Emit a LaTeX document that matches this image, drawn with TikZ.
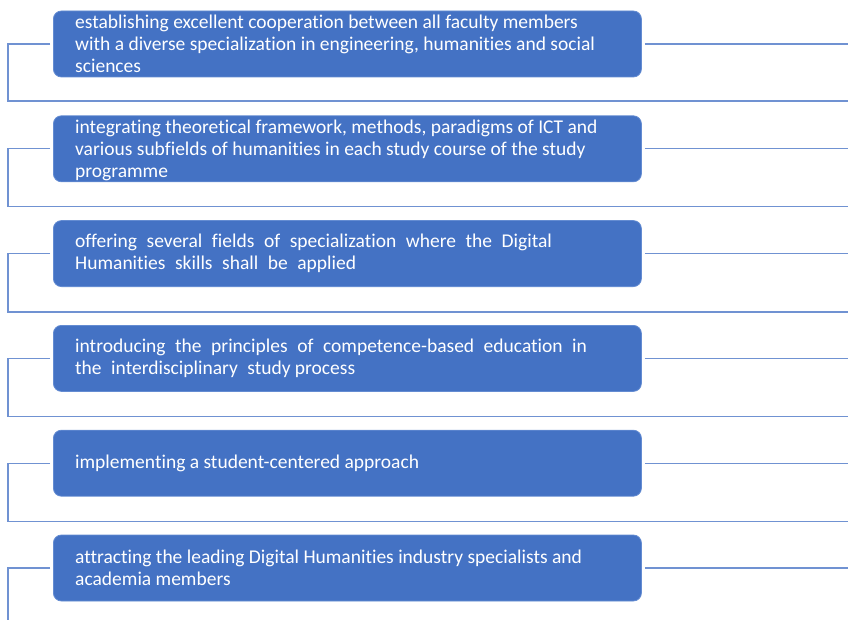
\documentclass[tikz,border=0pt]{standalone}
\usepackage{fontspec}
\setmainfont{Carlito}[Ligatures=NoCommon]
\definecolor{boxblue}{RGB}{68,114,196}
\definecolor{boxedge}{RGB}{100,140,210}
\definecolor{linkblue}{RGB}{112,146,210}
\newcommand{\mywidesp}{\spaceskip=0.49em plus 0.1em\relax}
\begin{document}
\begin{tikzpicture}[x=1pt,y=-1pt,
  item/.style={draw=boxedge, line width=0.8pt, fill=boxblue, rounded corners=8pt,
    minimum width=588pt, minimum height=66pt, inner sep=0pt, anchor=west},
  link/.style={draw=linkblue, line width=1.3pt},
  txt/.style={text=white, anchor=west, align=left, inner sep=0pt,
    font=\fontsize{19.5}{22}\selectfont},
  widetxt/.style={txt, font=\fontsize{19.5}{22}\selectfont\mywidesp}]
\useasboundingbox (0,0) rectangle (848,620);
\foreach \i/\c in {1/44,2/148.8,3/253.6,4/358.4,5/463.2,6/568}{
  \node[item] (b\i) at (53,\c) {};
  \coordinate (l\i) at (8,\c);
  \coordinate (r\i) at (848,\c);
}
\foreach \i/\s in {1/101,2/206.5,3/312,4/416.5,5/521.5}{
  \coordinate (sl\i) at (8,\s);
  \coordinate (sr\i) at (848,\s);
}
\coordinate (bottom) at (8,620);
% texts
\node[txt] (t1) at ([xshift=22pt]b1.west) {establishing excellent cooperation between all faculty members\\with a diverse specialization in engineering, humanities and social\\sciences};
\node[txt] (t2) at ([xshift=22pt,yshift=-2pt]b2.west) {integrating theoretical framework, methods, paradigms of ICT and\\various subfields of humanities in each study course of the study\\programme};
\node[widetxt] (t3) at ([xshift=22pt]b3.west) {offering several fields of specialization where the Digital\\Humanities skills shall be applied};
\node[widetxt] (t4) at ([xshift=22pt]b4.west) {introducing the principles of competence-based education in\\the interdisciplinary study\hspace{0.22em}process};
\node[txt] (t5) at ([xshift=22pt]b5.west) {implementing a student-centered approach};
\node[txt] (t6) at ([xshift=22pt]b6.west) {attracting the leading Digital Humanities industry specialists and\\academia members};
% connectors
\foreach \i in {1,...,5}{
  \draw[link] (b\i.west) ++(-3pt,0) -- (l\i) -- (sl\i) -- (sr\i);
  \draw[link] (b\i.east) ++(3pt,0) -- (r\i);
}
\draw[link] (b6.west) ++(-3pt,0) -- (l6) -- (bottom);
\draw[link] (b6.east) ++(3pt,0) -- (r6);
\end{tikzpicture}
\end{document}
